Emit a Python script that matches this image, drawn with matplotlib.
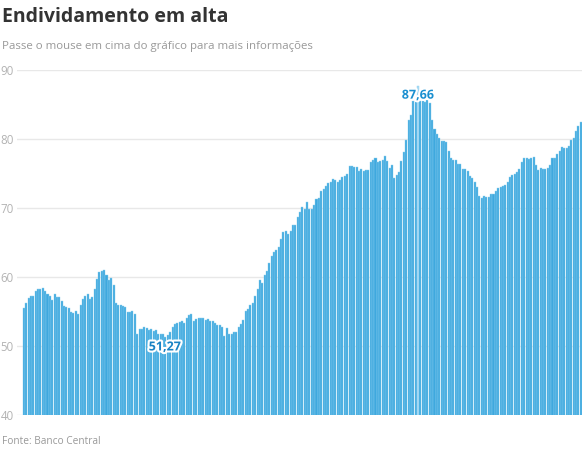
import matplotlib
matplotlib.use("Agg")
import matplotlib.pyplot as plt
import matplotlib.patheffects as pe
import numpy as np

plt.rcParams['font.family'] = ['Open Sans', 'DejaVu Sans']

titulo = "Endividamento em alta"
subtitulo = "Passe o mouse em cima do gráfico para mais informações"
fonte = "Fonte: Banco Central"

# valores mensais (% )
valores = [
    55.5, 56.2, 56.9, 57.2, 57.2, 57.9, 58.2, 58.3, 58.4, 57.9, 57.5, 57.2,
    56.7, 57.5, 57.1, 57.1, 56.5, 55.8, 55.6, 55.5, 55.0, 54.8, 55.1, 54.6,
    55.9, 56.8, 57.2, 57.5, 56.8, 57.1, 58.3, 59.7, 60.7, 60.8,
    61.0, 60.3, 59.6, 59.9, 58.9, 56.2, 56.0, 55.9, 55.8, 55.6, 55.0, 54.9,
    55.1, 54.6, 51.8, 52.4, 52.4, 52.7, 52.6, 52.3, 52.5, 52.2, 52.3, 51.7,
    51.7, 51.7,
    51.27,
    51.6, 52.1, 52.7, 53.2, 53.3, 53.5, 53.6, 53.4, 54.0, 54.5, 54.6,
    53.6, 53.9, 54.0, 54.0, 54.0, 53.8, 53.9, 53.6, 53.6, 53.4, 53.0, 53.0,
    52.7, 51.5, 52.6, 51.8, 51.7, 52.0, 52.1, 52.7, 53.2, 53.8, 55.1, 55.4,
    56.0, 56.3, 57.2, 58.3, 59.5, 59.1,
    60.3, 60.8, 62.1, 63.0, 63.6, 63.9, 64.3, 65.5, 66.5, 66.7, 66.2, 66.6,
    67.5, 67.5, 68.7, 69.4, 70.1, 69.8, 70.8, 69.9, 69.9, 70.4, 71.3, 71.4,
    72.4, 72.8, 73.2, 73.6, 73.8, 74.2, 74.1, 73.7, 74.1, 74.5,
    74.6, 75.0, 76.1, 76.1, 76.0, 76.0, 75.3, 75.7, 75.3, 75.5, 75.5, 76.7,
    76.9, 77.3, 76.7, 76.8, 76.9, 77.6, 76.8, 75.8, 76.2, 74.4, 74.8, 75.2,
    76.8, 78.1, 79.9, 82.8, 83.5, 85.5, 85.5, 87.66, 85.5, 85.5,
    85.4, 85.6, 85.2, 82.7, 81.5, 80.7, 80.2, 79.7, 79.7, 79.5, 78.3, 77.3,
    77.0, 77.0, 76.4, 76.4, 75.7, 75.7, 75.3, 74.6, 74.3, 73.8, 73.0, 71.7,
    71.5, 71.7, 71.6, 71.6, 72.1, 72.0, 72.5, 72.9, 73.0, 73.2,
    73.3,
    73.8, 74.5, 74.8, 75.0, 75.2, 75.6, 76.6, 77.2, 77.3, 77.1, 77.3, 77.4,
    76.2, 75.5, 75.8, 75.6, 75.6, 75.8, 76.3, 77.2, 77.3, 77.8, 78.3, 78.9,
    78.7, 78.7, 79.0, 79.9, 80.1, 81.1, 81.9, 82.5,
]
ticks_y = [40, 50, 60, 70, 80, 90]

n = len(valores)
x = np.arange(n)
i_min = int(np.argmin(valores))
i_max = int(np.argmax(valores))

fig = plt.figure(figsize=(5.82, 4.54), dpi=100)
ax = fig.add_axes([16.7 / 582, 39 / 454, (582 - 16.7) / 582, 345 / 454])

cores = ['#3ea8de'] * n
cores[i_max] = '#a9dbf4'
ax.bar(x, valores, width=0.86, color=cores, edgecolor='#8fd0f0',
       linewidth=0.3, zorder=2)

pitch = (581 - 22.7) / n
ax.set_xlim(-0.5 - 6 / pitch, n - 0.5)
ax.set_ylim(40, 90)
ax.set_yticks(ticks_y)
ax.yaxis.grid(True, color='#e8e8e8', linewidth=1, zorder=0)
ax.set_axisbelow(True)
ax.set_xticks([])
for s in ax.spines.values():
    s.set_visible(False)
ax.tick_params(axis='y', length=0, pad=2, labelsize=8.3, labelcolor='#b3b3b3')

halo = [pe.withStroke(linewidth=3, foreground='white')]
ax.annotate(f"{valores[i_min]:.2f}".replace('.', ','), (i_min, valores[i_min]),
            xytext=(-0.5, -7), textcoords='offset points', ha='center', va='center',
            fontsize=9, fontweight='bold', color='#1a83c4', path_effects=halo, zorder=5)
ax.annotate(f"{valores[i_max]:.2f}".replace('.', ','), (i_max, valores[i_max]),
            xytext=(0, -6.5), textcoords='offset points', ha='center', va='center',
            fontsize=9, fontweight='bold', color='#1a8fd0', path_effects=halo, zorder=5)

fig.text(2 / 582, 1 - 17 / 454, titulo, fontsize=14, fontweight='bold',
         color='#333333', ha='left', va='center')
fig.text(2 / 582, 1 - 46 / 454, subtitulo, fontsize=8.25, color='#999999',
         ha='left', va='center')
fig.text(2 / 582, 1 - 441 / 454, fonte, fontsize=7.3, color='#999999',
         ha='left', va='center')

fig.savefig("out.png", dpi=100)
